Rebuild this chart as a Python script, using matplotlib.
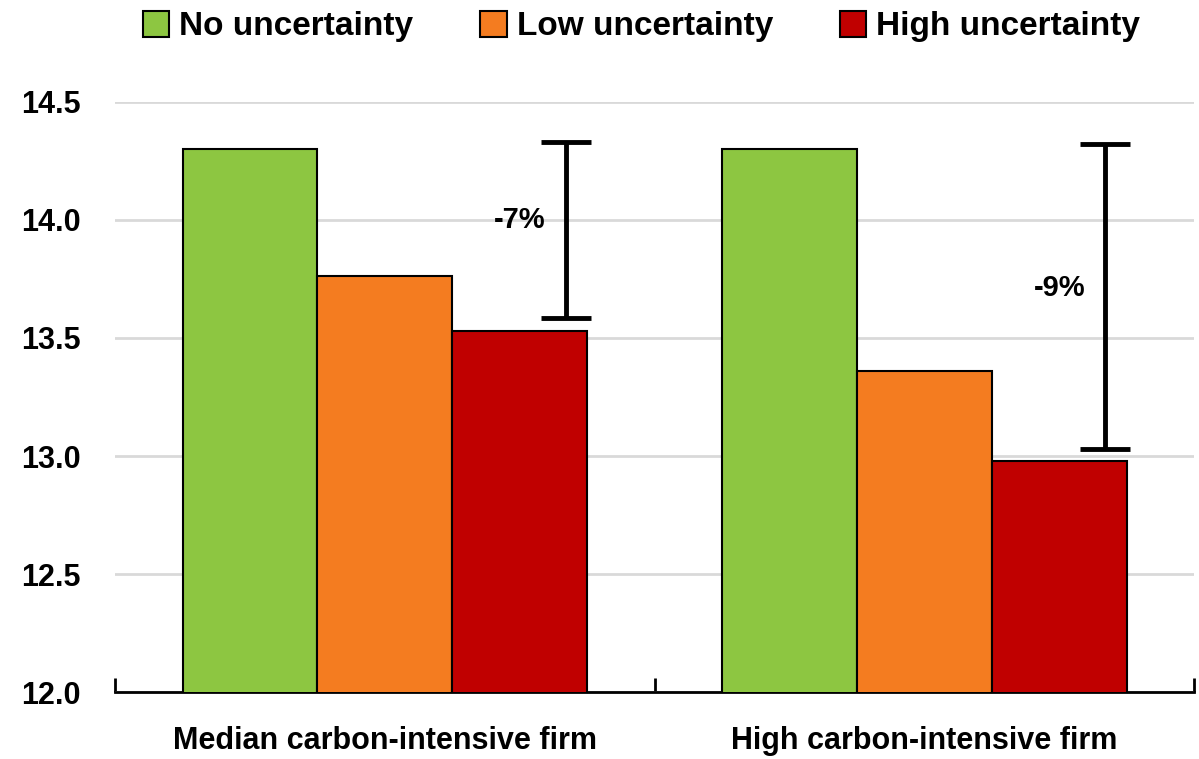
import matplotlib.pyplot as plt
import numpy as np

plt.rcParams['font.family'] = ['Liberation Sans', 'DejaVu Sans']
plt.rcParams['font.weight'] = 'bold'

categories = ["Median carbon-intensive firm", "High carbon-intensive firm"]
series_names = ["No uncertainty", "Low uncertainty", "High uncertainty"]
no_unc = [14.30, 14.30]
low_unc = [13.76, 13.36]
high_unc = [13.53, 12.98]

# bracket showing the drop, plus its label
err_top = [14.33, 14.32]
err_bottom = [13.585, 13.03]
drop_labels = ["-7%", "-9%"]
drop_label_y = [14.0, 13.71]

COLORS = ["#8DC641", "#F47C20", "#C00000"]
BAR_WIDTH = 0.25

fig = plt.figure(figsize=(11.99, 7.59), dpi=100)
ax = fig.add_axes([0.096, 0.088, 0.9, 0.778])

X = np.arange(len(categories))
for i, (vals, name) in enumerate(zip([no_unc, low_unc, high_unc], series_names)):
    ax.bar(X + (i - 1) * BAR_WIDTH, vals, width=BAR_WIDTH, color=COLORS[i],
           edgecolor="black", linewidth=1.5, label=name, zorder=3)

err_x = X + 0.335
mid = (np.array(err_top) + np.array(err_bottom)) / 2
half = (np.array(err_top) - np.array(err_bottom)) / 2
ax.errorbar(err_x, mid, yerr=half, fmt="none", ecolor="black",
            elinewidth=3.5, capsize=18, capthick=3.5, zorder=4)

for x, y, t in zip(X + 0.25, drop_label_y, drop_labels):
    ax.text(x, y, t, ha="center", va="center", fontsize=21, zorder=5)

ax.set_xlim(-0.5, 1.5)
ax.set_ylim(12.0, 14.5)
ax.set_yticks(np.arange(12.0, 14.51, 0.5))
ax.set_yticklabels(["%.1f" % v for v in np.arange(12.0, 14.51, 0.5)])
ax.yaxis.grid(True, color="#D9D9D9", linewidth=2, zorder=0)
ax.set_axisbelow(True)

ax.set_xticks(X)
ax.set_xticklabels(categories)
ax.set_xticks([-0.5, 0.5, 1.5], minor=True)
ax.tick_params(axis="x", which="major", length=0, pad=24, labelsize=22)
ax.tick_params(axis="x", which="minor", direction="in", length=10, width=2)
ax.tick_params(axis="y", length=0, pad=25, labelsize=22)

for s in ["top", "right", "left"]:
    ax.spines[s].set_visible(False)
ax.spines["bottom"].set_linewidth(2)

fig.legend(loc="upper center", bbox_to_anchor=(0.535, 1.025), ncol=3,
           frameon=False, fontsize=24, handlelength=0.8, handleheight=0.8,
           handletextpad=0.3, columnspacing=2.0)

fig.savefig("out.png", dpi=100)
